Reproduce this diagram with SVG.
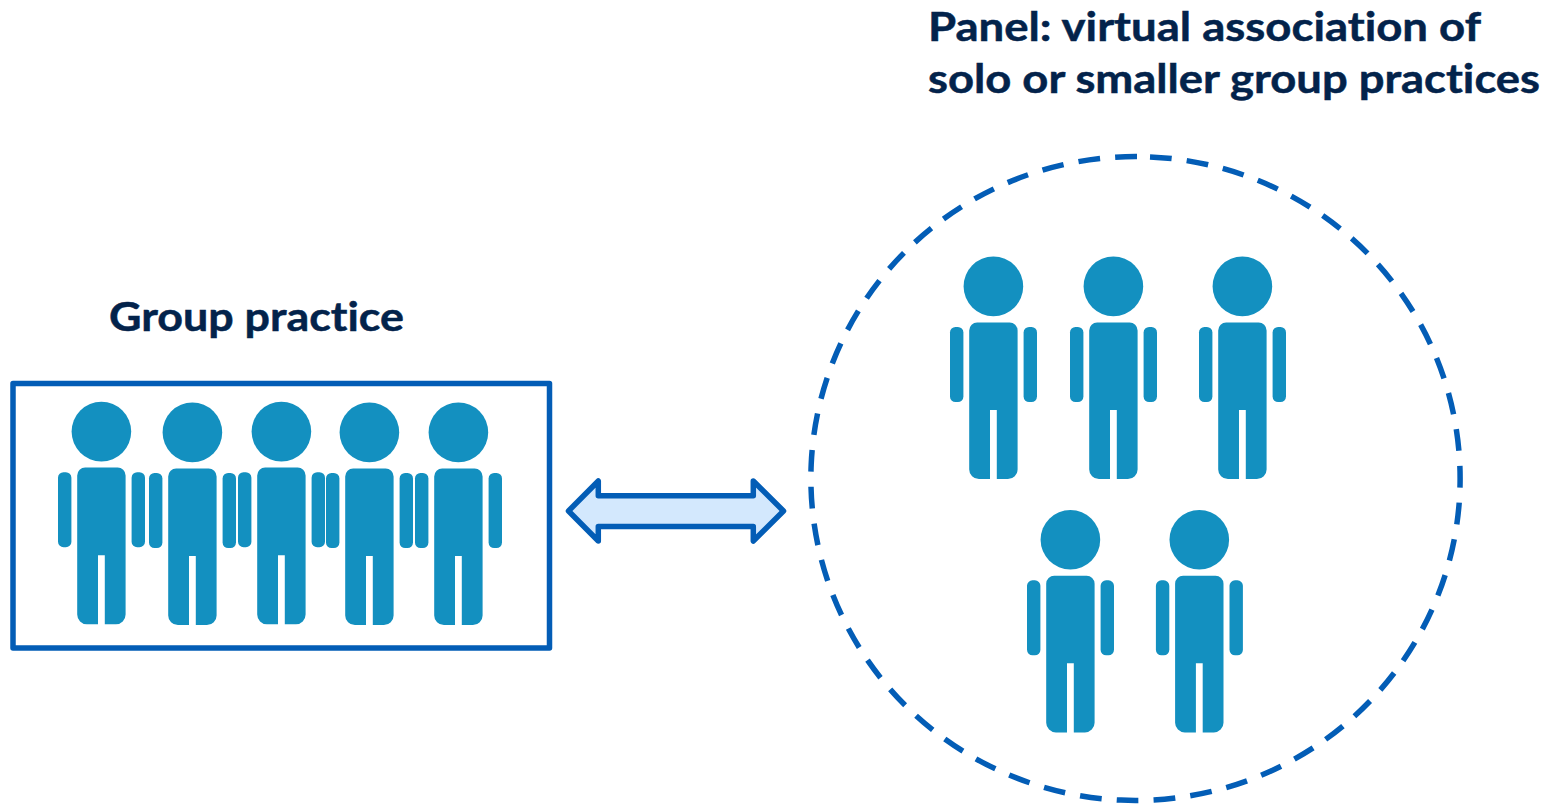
<svg xmlns="http://www.w3.org/2000/svg" xmlns:xlink="http://www.w3.org/1999/xlink" width="1562" height="804" viewBox="0 0 1562 804">
<style>
.t{font-family:Lato,"Noto Sans",sans-serif;font-weight:700;font-size:41px;fill:#03234b;stroke:#03234b;stroke-width:.5;font-variant-ligatures:none}
.p{fill:#1390c0}
.s{stroke:#035db6;stroke-width:5.500;stroke-linejoin:round}
</style>
<defs>
<g id="person">
<circle class="p" cx="0" cy="0" r="29.800"/>
<path class="p" d="M-16 36H16A8 8 0 0 1 24.200 44V183A9.700 9.700 0 0 1 14.500 192.700H3.400V123.600H-3.400V192.700H-14.500A9.700 9.700 0 0 1 -24.200 183V44A8 8 0 0 1 -16 36Z"/>
<rect class="p" x="-43.400" y="40.600" width="13.400" height="75" rx="5.500"/>
<rect class="p" x="30.200" y="40.600" width="13.400" height="75" rx="5.500"/>
</g>
</defs>
<g id="connectors">
<path class="s" fill="#d3e8fd" d="M568.500 511L598.300 481V495.800H753.300V481L783.500 511L753.300 541V526.500H598.300V541Z"/>
</g>
<g id="group-practice">
<rect class="s" x="13" y="383.500" width="536.500" height="264.500" fill="none"/>
<text class="t" x="109" y="331" textLength="295" lengthAdjust="spacingAndGlyphs">Group practice</text>
<use xlink:href="#person" href="#person" x="101.400" y="431.600"/>
<use xlink:href="#person" href="#person" x="192.400" y="432.400"/>
<use xlink:href="#person" href="#person" x="281.400" y="431.600"/>
<use xlink:href="#person" href="#person" x="369.400" y="432.400"/>
<use xlink:href="#person" href="#person" x="458.400" y="432.400"/>
</g>
<g id="panel">
<path d="M1150 156.900A324.500 321.700 0 0 1 1121 800.100A324.500 321.700 0 0 1 1150 156.900Z" fill="none" stroke="#035db6" stroke-width="5.500" stroke-dasharray="21.800 15.150"/>
<text class="t" x="928" y="41" textLength="553" lengthAdjust="spacingAndGlyphs">Panel: virtual association of</text>
<text class="t" x="928" y="93" textLength="612" lengthAdjust="spacingAndGlyphs">solo or smaller group practices</text>
<use xlink:href="#person" href="#person" x="993.400" y="286.400"/>
<use xlink:href="#person" href="#person" x="1113.400" y="286.400"/>
<use xlink:href="#person" href="#person" x="1242.400" y="286.400"/>
<use xlink:href="#person" href="#person" x="1070.400" y="539.700"/>
<use xlink:href="#person" href="#person" x="1199.300" y="539.700"/>
</g>
</svg>
